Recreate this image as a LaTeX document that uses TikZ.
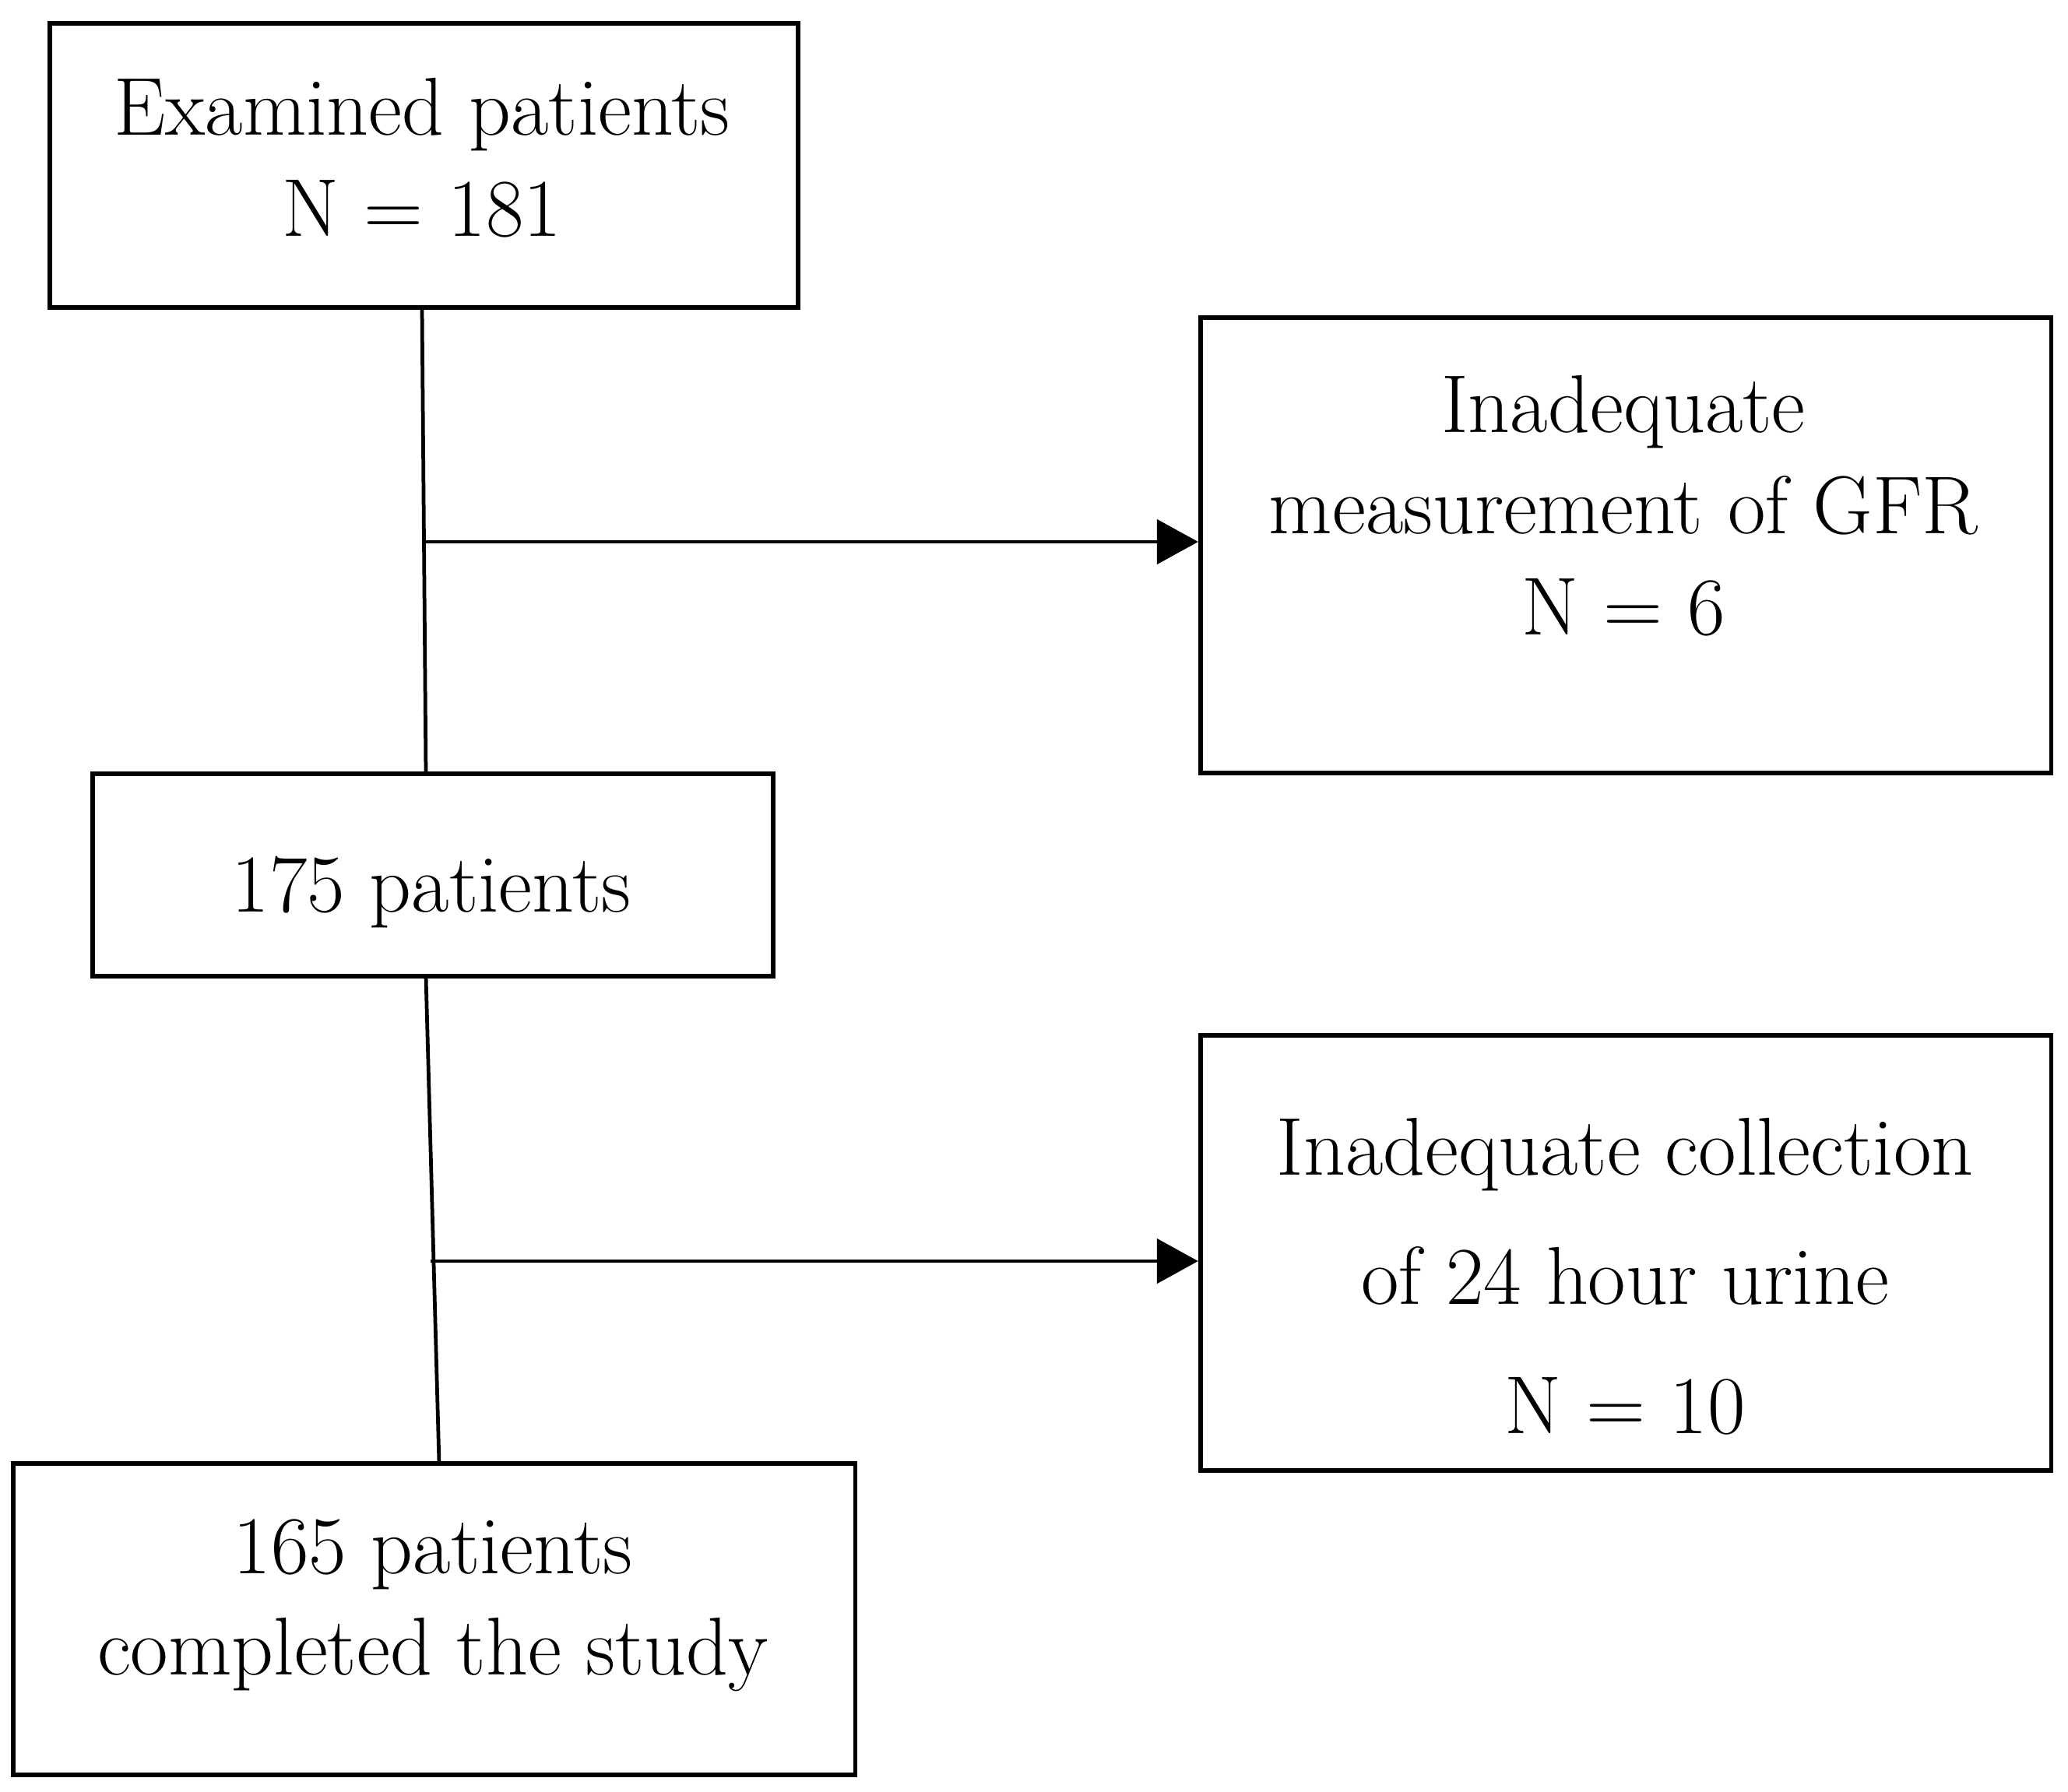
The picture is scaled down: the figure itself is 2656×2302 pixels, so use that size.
\documentclass[tikz,border=0pt]{standalone}
\usetikzlibrary{arrows.meta}
\begin{document}
\begin{tikzpicture}[x=0.01cm,y=-0.01cm,
  boxnode/.style={draw=black,line width=1.6pt,rectangle,inner sep=0pt},
  txt/.style={align=center,inner sep=0pt,font=\fontsize{30}{37}\selectfont},
  conn/.style={line width=1.35pt,black},
  arr/.style={conn,-{Triangle[length=0.53cm,width=0.57cm]}}]
\useasboundingbox (0,0) rectangle (2656,2302);
% boxes
\node[boxnode,minimum width=9.61cm,minimum height=3.65cm] (b1) at (544.5,212.5) {};
\node[boxnode,minimum width=10.92cm,minimum height=5.85cm] (b2) at (2088,700.5) {};
\node[boxnode,minimum width=8.74cm,minimum height=2.60cm] (b3) at (556,1124) {};
\node[boxnode,minimum width=10.92cm,minimum height=5.59cm] (b4) at (2088,1609.5) {};
\node[boxnode,minimum width=10.81cm,minimum height=4.00cm] (b5) at (557.5,2080) {};
% texts
\node[txt] (t1) at (542,203) {Examined patients\\N = 181};
\node[txt] (t2) at (2085,650) {Inadequate\\measurement of GFR\\N = 6};
\node[txt] (t3) at (554,1146) {175 patients};
\node[txt] (t4) at (2087,1640) {Inadequate collection\\[0.36cm]of 24 hour urine\\[0.36cm]N = 10};
\node[txt] (t5) at (556,2062) {165 patients\\completed the study};
% connectors
\coordinate (j1) at (546,696);
\coordinate (j2) at (553,1620);
\draw[conn] (542,395) coordinate (s1) -- (547,994) coordinate (e1);
\draw[arr] (j1) -- (b2.west |- j1);
\draw[conn] (547,1254) coordinate (s2) -- (564,1880) coordinate (e2);
\draw[arr] (j2) -- (b4.west |- j2);
\end{tikzpicture}
\end{document}
